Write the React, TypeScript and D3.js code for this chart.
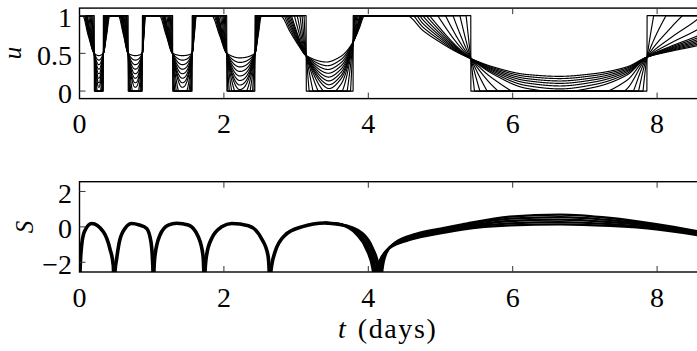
import * as d3 from 'd3';
import React from 'react';

// time axis
const T_MAX = 8.65;
const tTicks = [0, 2, 4, 6, 8];
const uTicks = [0, 0.5, 1];
const sTicks = [-2, 0, 2];

// members of the control family, smoothest first, bang-bang last (gain outside the switching times)
const outerGain = [1, 1.12, 1.25, 1.38, 1.52, 1.68, 1.85, 2.4, 3.3, 5, 8.6, 21, 1e4];

// smoothest control u(t) through each dip, [t, u]
const dip1 = [[0.044, 1], [0.12, 0.74], [0.205, 0.5], [0.267, 0.47], [0.33, 0.5], [0.375, 0.74], [0.42, 1]];
const dip2 = [[0.537, 1], [0.61, 0.74], [0.674, 0.5], [0.772, 0.47], [0.87, 0.5], [0.893, 0.74], [0.915, 1]];
const dip3 = [[1.105, 1], [1.2, 0.74], [1.29, 0.5], [1.425, 0.47], [1.56, 0.5], [1.59, 0.74], [1.62, 1]];
const dip4 = [[1.83, 1], [1.94, 0.74], [2.04, 0.5], [2.22, 0.44], [2.43, 0.5], [2.475, 0.74], [2.52, 1]];
const dip5 = [[2.78, 1], [2.92, 0.78], [3.03, 0.61], [3.14, 0.47], [3.42, 0.385], [3.62, 0.46], [3.79, 0.65], [3.87, 0.82], [3.95, 1]];
const dip6 = [
    [4.53, 1], [4.76, 0.8], [4.99, 0.65], [5.22, 0.52], [5.42, 0.43], [5.73, 0.32], [6.19, 0.22], [6.65, 0.195],
    [7.12, 0.23], [7.58, 0.32], [7.86, 0.45], [8.2, 0.53], [8.55, 0.6], [9.2, 0.78], [9.8, 1],
];

// switching times (edges of the bang-bang rectangle) and the u where the family crosses there
const dipSwitch = [[0.205, 0.33], [0.674, 0.87], [1.29, 1.56], [2.04, 2.43], [3.14, 3.79], [5.42, 7.86]];
const dipCross = [[0.5, 0.5], [0.5, 0.5], [0.5, 0.5], [0.5, 0.5], [0.47, 0.65], [0.43, 0.45]];

// gain between the switching times: sets how deep each bowl goes
const innerShort = [1, 3, 5, 7, 9, 11, 13, 15, 20, 28, 45, 100, 1e4];
const innerDip4 = [1, 2, 3, 4, 5, 6, 7, 8, 10, 14, 25, 60, 1e4];
const innerDip5 = [1, 1.3, 1.6, 1.9, 2.2, 2.5, 2.8, 3.1, 3.6, 4.5, 7, 15, 1e4];

// S(t), shared part (all runs overlap), one array per arch between cusps
const sHump0 = [[0, -3.4], [0.007, -2.55], [0.021, -1.42], [0.067, -0.28], [0.17, 0.19], [0.33, -0.28], [0.42, -1.22], [0.468, -2.18], [0.482, -5]];
const sHump1 = [[0.482, -5], [0.49, -2.6], [0.515, -1.79], [0.552, -0.85], [0.63, -0.09], [0.723, 0.19], [0.83, 0.1], [0.93, -0.09], [0.99, -0.85], [1.01, -1.79], [1.018, -2.6], [1.022, -5]];
const sHump2 = [[1.022, -5], [1.03, -2.6], [1.046, -1.6], [1.115, -0.46], [1.23, 0.1], [1.346, 0.2], [1.507, 0.1], [1.645, -0.56], [1.71, -1.6], [1.722, -2.6], [1.729, -5]];
const sHump3 = [[1.729, -5], [1.738, -2.6], [1.76, -1.6], [1.83, -0.66], [1.97, 0], [2.108, 0.19], [2.34, 0.06], [2.52, -0.66], [2.61, -1.6], [2.628, -2.6], [2.638, -5]];
const sHump4 = [[2.638, -5], [2.648, -2.6], [2.708, -1.42], [2.846, -0.47], [3.077, 0], [3.4, 0.22], [3.63, 0.12]];

// S(t) after t = 3.4, where the runs separate
const sTail0 = [[3.4, 0.22], [3.63, 0.1], [3.83, -0.4], [3.97, -1.25], [4.06, -2.4], [4.09, -5], [4.105, -2.75], [4.16, -1.9], [4.29, -1.22], [4.56, -0.75], [4.9, -0.44], [5.3, -0.15], [5.96, 0.08], [6.66, 0.14], [7.35, 0.05], [7.99, -0.14], [8.7, -0.56]];
const sTail1 = [[3.4, 0.22], [3.63, 0.11], [3.85, -0.38], [3.99, -1.23], [4.08, -2.38], [4.11, -5], [4.125, -2.68], [4.18, -1.8], [4.31, -1.12], [4.58, -0.66], [4.92, -0.35], [5.3, -0.07], [5.96, 0.2], [6.66, 0.27], [7.35, 0.15], [7.99, -0.07], [8.7, -0.51]];
const sTail2 = [[3.4, 0.22], [3.63, 0.12], [3.87, -0.37], [4.01, -1.22], [4.1, -2.36], [4.13, -5], [4.145, -2.6], [4.2, -1.7], [4.33, -1.04], [4.6, -0.57], [4.95, -0.26], [5.3, 0], [5.96, 0.33], [6.66, 0.41], [7.35, 0.27], [7.99, 0.01], [8.7, -0.46]];
const sTail3 = [[3.4, 0.22], [3.63, 0.13], [3.9, -0.36], [4.035, -1.2], [4.125, -2.34], [4.155, -5], [4.17, -2.52], [4.225, -1.6], [4.355, -0.95], [4.63, -0.48], [4.98, -0.17], [5.3, 0.07], [5.96, 0.46], [6.66, 0.55], [7.35, 0.38], [7.99, 0.08], [8.7, -0.41]];
const sTail4 = [[3.4, 0.22], [3.63, 0.14], [3.92, -0.35], [4.06, -1.18], [4.15, -2.32], [4.18, -5], [4.195, -2.45], [4.25, -1.5], [4.38, -0.87], [4.66, -0.4], [5.0, -0.1], [5.3, 0.14], [5.96, 0.58], [6.66, 0.69], [7.35, 0.5], [7.99, 0.15], [8.7, -0.36]];

const W = 697;
const H = 351;
const LEFT = 79.5;
const PX_PER_DAY = 72.2;
const FONT = '"Liberation Serif", "Times New Roman", serif';

// monotone cubic through the knots, flat at both ends
const smooth = (knots: number[][]) => {
    const n = knots.length;
    const xs = knots.map((k) => k[0]);
    const ys = knots.map((k) => k[1]);
    const h: number[] = [];
    const d: number[] = [];
    for (let i = 0; i < n - 1; i++) {
        h[i] = xs[i + 1] - xs[i];
        d[i] = (ys[i + 1] - ys[i]) / h[i];
    }
    const m = new Array(n).fill(0);
    for (let i = 1; i < n - 1; i++) {
        if (d[i - 1] * d[i] > 0) {
            const w1 = 2 * h[i] + h[i - 1];
            const w2 = h[i] + 2 * h[i - 1];
            m[i] = (w1 + w2) / (w1 / d[i - 1] + w2 / d[i]);
        }
    }
    return (t: number) => {
        if (t <= xs[0]) return ys[0];
        if (t >= xs[n - 1]) return ys[n - 1];
        const i = Math.min(d3.bisectRight(xs, t) - 1, n - 2);
        const s = (t - xs[i]) / h[i];
        const s2 = s * s;
        const s3 = s2 * s;
        return (
            (2 * s3 - 3 * s2 + 1) * ys[i] +
            (s3 - 2 * s2 + s) * h[i] * m[i] +
            (-2 * s3 + 3 * s2) * ys[i + 1] +
            (s3 - s2) * h[i] * m[i + 1]
        );
    };
};

const App = (): React.ReactElement => {
    const chartRef = React.useRef<SVGSVGElement>(null);

    React.useEffect(() => {
        const right = LEFT + T_MAX * PX_PER_DAY;
        const x = d3.scaleLinear().domain([0, T_MAX]).range([LEFT, right]);
        const yU = d3.scaleLinear().domain([-0.1, 1.1]).range([98.6, 8.1]);
        const yS = d3.scaleLinear().domain([-2.55, 2.55]).range([272, 181.7]);

        const svg = d3.select(chartRef.current).attr('width', W).attr('height', H);
        svg.selectAll('*').remove();
        svg.append('rect').attr('width', W).attr('height', H).attr('fill', '#fff');

        const defs = svg.append('defs');
        const addClip = (id: string, y: d3.ScaleLinear<number, number>) => {
            const [y0, y1] = y.range();
            defs.append('clipPath')
                .attr('id', id)
                .append('rect')
                .attr('x', LEFT)
                .attr('y', Math.min(y0, y1))
                .attr('width', right - LEFT)
                .attr('height', Math.abs(y0 - y1));
        };
        addClip('clipU', yU);
        addClip('clipS', yS);

        // ---- top panel: control family ----
        const dipKnots = [dip1, dip2, dip3, dip4, dip5, dip6];
        const innerGain = [innerShort, innerShort, innerShort, innerDip4, innerDip5, outerGain];
        const dips = dipKnots.map((knots, j) => ({
            g: smooth(knots),
            t1: knots[0][0],
            t2: Math.min(knots[knots.length - 1][0], T_MAX),
            tL: dipSwitch[j][0],
            tR: dipSwitch[j][1],
            cL: dipCross[j][0],
            cR: dipCross[j][1],
            inner: innerGain[j],
        }));

        const uLine = d3
            .line<number[]>()
            .x((d) => x(d[0]))
            .y((d) => yU(d[1]));

        const gU = svg.append('g').attr('clip-path', 'url(#clipU)');
        outerGain.forEach((kOut, i) => {
            const pts: number[][] = [[0, 1]];
            dips.forEach((dp) => {
                const ts = d3.range(dp.t1, dp.t2, 0.0015).concat([dp.tL, dp.tR, dp.t2]).sort((a, b) => a - b);
                ts.forEach((t) => {
                    let c: number;
                    let k: number;
                    if (t <= dp.tL) {
                        c = dp.cL;
                        k = kOut;
                    } else if (t >= dp.tR) {
                        c = dp.cR;
                        k = kOut;
                    } else {
                        c = dp.cL + ((dp.cR - dp.cL) * (t - dp.tL)) / (dp.tR - dp.tL);
                        k = dp.inner[i];
                    }
                    const u = Math.max(0, Math.min(1, c + k * (dp.g(t) - c)));
                    pts.push([t, u]);
                });
            });
            gU.append('path')
                .attr('d', uLine(pts) as string)
                .attr('fill', 'none')
                .attr('stroke', '#000')
                .attr('stroke-width', 1.15)
                .attr('stroke-linejoin', 'round');
        });

        // ---- bottom panel: S ----
        const sLine = d3
            .line<number[]>()
            .x((d) => x(d[0]))
            .y((d) => yS(d[1]))
            .curve(d3.curveMonotoneX);
        const gS = svg.append('g').attr('clip-path', 'url(#clipS)');
        [sTail0, sTail1, sTail2, sTail3, sTail4].forEach((seg) => {
            gS.append('path')
                .attr('d', sLine(seg) as string)
                .attr('fill', 'none')
                .attr('stroke', '#000')
                .attr('stroke-width', 2.3)
                .attr('stroke-linecap', 'round');
        });
        [sHump0, sHump1, sHump2, sHump3, sHump4].forEach((seg) => {
            gS.append('path')
                .attr('d', sLine(seg) as string)
                .attr('fill', 'none')
                .attr('stroke', '#000')
                .attr('stroke-width', 3.6)
                .attr('stroke-linecap', 'round');
        });

        // ---- frames, ticks, labels ----
        const drawAxes = (y: d3.ScaleLinear<number, number>, yTicks: number[], fmt: (v: number) => string) => {
            const [yBot, yTop] = y.range();
            const g = svg.append('g');
            g.append('rect')
                .attr('x', LEFT)
                .attr('y', yTop)
                .attr('width', right - LEFT)
                .attr('height', yBot - yTop)
                .attr('fill', 'none')
                .attr('stroke', '#000')
                .attr('stroke-width', 1.4);
            tTicks.filter((t) => t > 0).forEach((t) => {
                g.append('line').attr('x1', x(t)).attr('x2', x(t)).attr('y1', yBot).attr('y2', yBot - 6)
                    .attr('stroke', '#333').attr('stroke-width', 1);
                g.append('line').attr('x1', x(t)).attr('x2', x(t)).attr('y1', yTop).attr('y2', yTop + 6)
                    .attr('stroke', '#333').attr('stroke-width', 1);
            });
            yTicks.forEach((v) => {
                g.append('line').attr('x1', LEFT).attr('x2', LEFT + 6).attr('y1', y(v)).attr('y2', y(v))
                    .attr('stroke', '#333').attr('stroke-width', 1);
            });
            g.selectAll('text.xt')
                .data(tTicks)
                .enter()
                .append('text')
                .attr('x', (d) => x(d))
                .attr('y', yBot + 34.7)
                .attr('text-anchor', 'middle')
                .attr('font-family', FONT)
                .attr('font-size', 28)
                .text((d) => String(d));
            g.selectAll('text.yt')
                .data(yTicks)
                .enter()
                .append('text')
                .attr('x', 72)
                .attr('y', (d) => y(d) + 11.5)
                .attr('text-anchor', 'end')
                .attr('font-family', FONT)
                .attr('font-size', 28)
                .text((d) => fmt(d));
        };
        drawAxes(yU, uTicks, (v) => String(v));
        drawAxes(yS, sTicks, (v) => String(v).replace('-', '\u2212'));

        // axis titles
        svg.append('text')
            .attr('transform', 'translate(20.5,53) rotate(-90)')
            .attr('text-anchor', 'middle')
            .attr('font-family', FONT)
            .attr('font-style', 'italic')
            .attr('font-size', 25)
            .text('u');
        svg.append('text')
            .attr('transform', 'translate(32.5,227) rotate(-90)')
            .attr('text-anchor', 'middle')
            .attr('font-family', FONT)
            .attr('font-style', 'italic')
            .attr('font-size', 25)
            .text('S');
        const xt = svg.append('text')
            .attr('x', 338)
            .attr('y', 338)
            .attr('font-family', FONT)
            .attr('font-size', 28);
        xt.append('tspan').attr('font-style', 'italic').text('t');
        xt.append('tspan').attr('dx', 12).attr('letter-spacing', 1.6).text('(days)');
    }, []);

    return (
        <div style={{ position: 'absolute', left: 0, top: 0 }}>
            <svg ref={chartRef} style={{ display: 'block' }}></svg>
        </div>
    );
};

export default App;
